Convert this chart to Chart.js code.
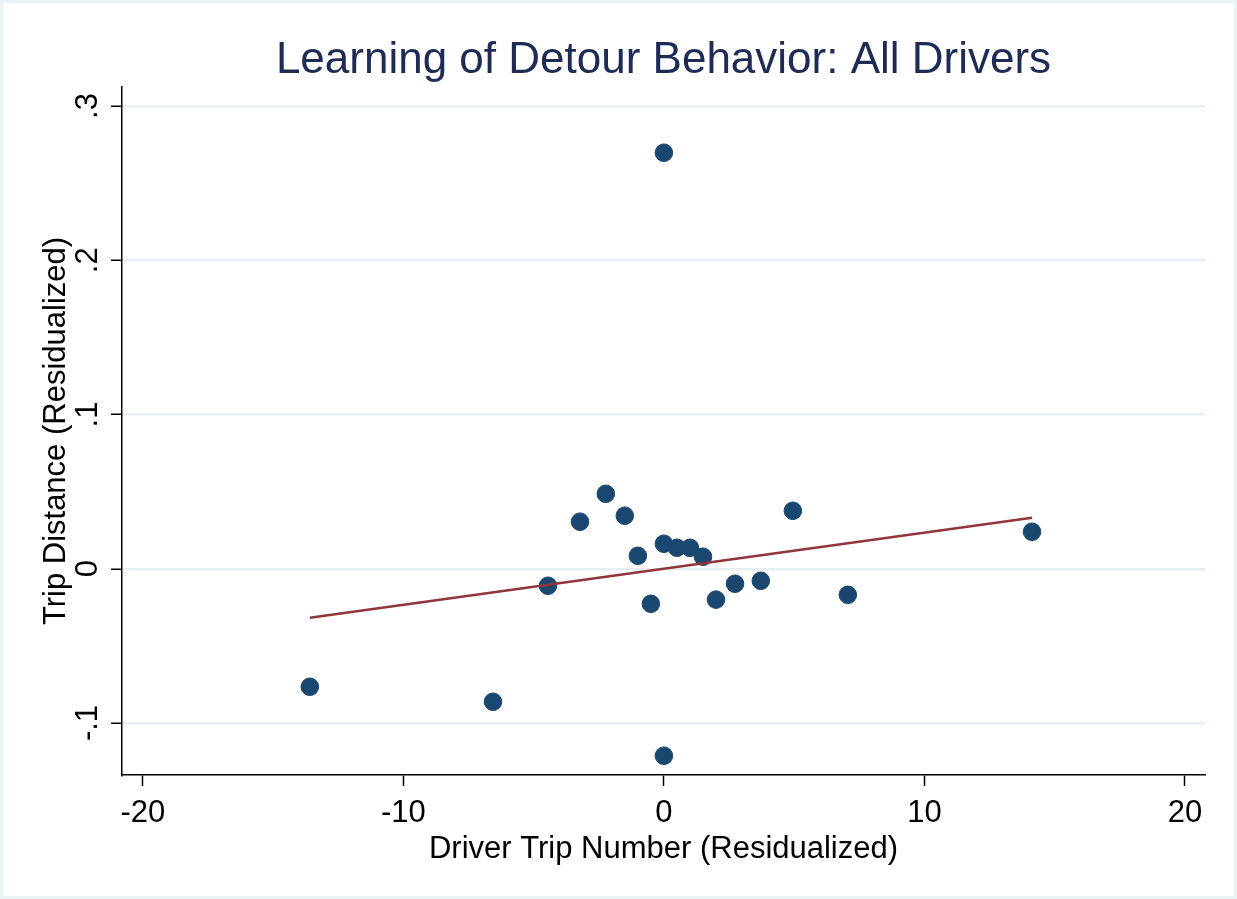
<!DOCTYPE html>
<html>
<head>
<meta charset="utf-8">
<script src="https://cdn.jsdelivr.net/npm/chart.js@4.4.1/dist/chart.umd.min.js"></script>
<style>
  html, body { margin: 0; padding: 0; background: #fff; }
  #wrap { width: 1237px; height: 899px; position: relative; box-sizing: border-box; border: 3px solid #eaf2f3; }
  canvas { position: absolute; left: -3px; top: -3px; }
</style>
</head>
<body>
<div id="wrap"><canvas id="scatter" width="1237" height="899"></canvas></div>
<script>
// residualized trip number (x) and trip distance (y), one point per bin
const tripNumber = [0, -2.23, -3.22, -1.5, -1.0, 0, 0.5, 1.0, 1.5, 4.95, 14.13,
                    -4.45, -0.5, 2.0, 2.73, 3.72, 7.06, -13.59, -6.56, 0];
const tripDistance = [0.2697, 0.0486, 0.0305, 0.0344, 0.0084, 0.0162, 0.0136, 0.0136, 0.0078, 0.0376, 0.024,
                      -0.011, -0.0227, -0.020, -0.0097, -0.0078, -0.0169, -0.0765, -0.0862, -0.1212];

// fitted line end points
const fitX = [-13.59, 14.13];
const fitY = [-0.0318, 0.0331];

const xTicks = [-20, -10, 0, 10, 20];
const xTickLabels = ["-20", "-10", "0", "10", "20"];
const yTicks = [-0.1, 0, 0.1, 0.2, 0.3];
const yTickLabels = ["-.1", "0", ".1", ".2", ".3"];

const titleText = "Learning of Detour Behavior: All Drivers";
const font = "'Liberation Sans', Arial, sans-serif";

const points = tripNumber.map((x, i) => ({ x: x, y: tripDistance[i] }));
const fitLine = fitX.map((x, i) => ({ x: x, y: fitY[i] }));

// title centred over the plot area, y labels turned like Stata does
const stataText = {
    id: "stataText",
    afterDraw(chart) {
        const { ctx, chartArea, scales } = chart;
        ctx.save();
        ctx.fillStyle = "#1e2c55";
        ctx.font = "44px " + font;
        ctx.textAlign = "center";
        ctx.textBaseline = "alphabetic";
        ctx.fillText(titleText, (chartArea.left + chartArea.right) / 2, 73);

        ctx.fillStyle = "#000";
        ctx.font = "31px " + font;
        ctx.textBaseline = "middle";
        scales.y.ticks.forEach(t => {
            const py = scales.y.getPixelForValue(t.value);
            ctx.save();
            ctx.translate(88, py);
            ctx.rotate(-Math.PI / 2);
            ctx.fillText(yTickLabels[yTicks.indexOf(t.value)], 0, 0);
            ctx.restore();
        });
        ctx.restore();
    }
};

new Chart(document.getElementById("scatter"), {
    type: "scatter",
    data: {
        datasets: [
            {
                label: "Bins",
                data: points,
                backgroundColor: "#1a476f",
                borderColor: "#1a476f",
                pointRadius: 8.8,
                pointHoverRadius: 8.8,
                order: 2
            },
            {
                label: "Fit",
                type: "line",
                data: fitLine,
                borderColor: "#90353b",
                borderWidth: 2.4,
                pointRadius: 0,
                fill: false,
                order: 1
            }
        ]
    },
    options: {
        responsive: false,
        animation: false,
        layout: { padding: { top: 87, right: 32, left: 0, bottom: 0 } },
        plugins: {
            legend: { display: false },
            tooltip: { enabled: false },
            title: { display: false }
        },
        scales: {
            x: {
                type: "linear",
                min: -20.8,
                max: 20.77,
                afterBuildTicks: s => { s.ticks = xTicks.map(v => ({ value: v })); },
                afterFit: s => { s.height = 124; },
                ticks: {
                    color: "#000",
                    font: { family: font, size: 31 },
                    padding: 9,
                    maxRotation: 0,
                    callback: v => xTickLabels[xTicks.indexOf(v)]
                },
                grid: {
                    drawOnChartArea: false,
                    drawTicks: true,
                    tickLength: 11,
                    tickColor: "#000",
                    tickWidth: 1.5
                },
                border: { color: "#000", width: 1.5 },
                title: {
                    display: true,
                    text: "Driver Trip Number (Residualized)",
                    color: "#000",
                    font: { family: font, size: 31 },
                    padding: { top: 0, bottom: 31 }
                }
            },
            y: {
                type: "linear",
                min: -0.1337,
                max: 0.3123,
                afterBuildTicks: s => { s.ticks = yTicks.map(v => ({ value: v })); },
                afterFit: s => { s.width = 122; },
                ticks: { display: false },
                grid: {
                    color: "#e6eff1",
                    lineWidth: 2.5,
                    drawTicks: true,
                    tickLength: 11,
                    tickColor: "#000",
                    tickWidth: 1.5
                },
                border: { color: "#000", width: 1.5 },
                title: {
                    display: true,
                    text: "Trip Distance (Residualized)",
                    color: "#000",
                    font: { family: font, size: 31 },
                    padding: { top: 38, bottom: 0 }
                }
            }
        }
    },
    plugins: [stataText]
});
</script>
</body>
</html>
